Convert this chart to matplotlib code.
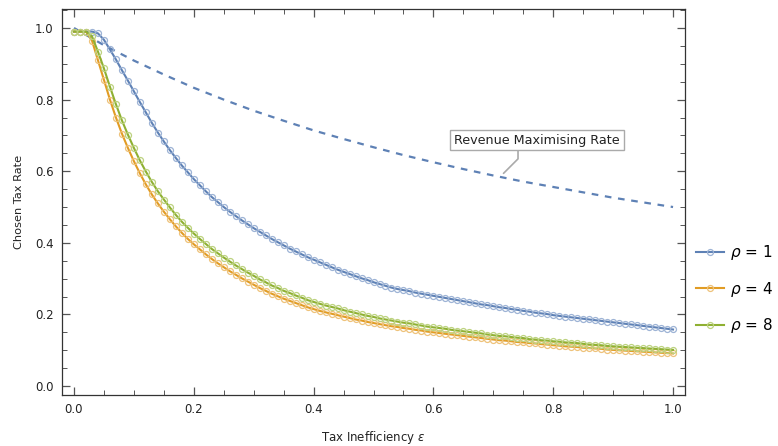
import numpy as np
import matplotlib.pyplot as plt
from matplotlib.ticker import MultipleLocator

# tax inefficiency grid (one sample every 0.01)
eps = np.round(np.arange(0, 101) * 0.01, 2)

rate_rho1 = [
    0.990, 0.990, 0.990, 0.990, 0.985, 0.967, 0.940, 0.912, 0.882, 0.853,
    0.823, 0.793, 0.764, 0.735, 0.708, 0.683, 0.659, 0.637, 0.616, 0.597,
    0.578, 0.561, 0.544, 0.528, 0.514, 0.500, 0.487, 0.475, 0.463, 0.452,
    0.441, 0.431, 0.421, 0.411, 0.402, 0.393, 0.384, 0.376, 0.368, 0.360,
    0.353, 0.346, 0.339, 0.332, 0.325, 0.319, 0.313, 0.307, 0.301, 0.296,
    0.290, 0.285, 0.280, 0.275, 0.271, 0.268, 0.265, 0.261, 0.258, 0.255,
    0.252, 0.249, 0.246, 0.243, 0.240, 0.237, 0.234, 0.231, 0.228, 0.226,
    0.223, 0.220, 0.218, 0.215, 0.213, 0.210, 0.208, 0.205, 0.203, 0.201,
    0.198, 0.196, 0.194, 0.192, 0.190, 0.188, 0.186, 0.184, 0.182, 0.180,
    0.178, 0.176, 0.174, 0.172, 0.170, 0.168, 0.166, 0.164, 0.162, 0.160,
    0.158,
]

rate_rho4 = [
    0.990, 0.990, 0.990, 0.965, 0.910, 0.855, 0.800, 0.750, 0.705, 0.665,
    0.628, 0.594, 0.563, 0.535, 0.510, 0.487, 0.466, 0.446, 0.428, 0.411,
    0.396, 0.382, 0.368, 0.355, 0.343, 0.332, 0.321, 0.311, 0.301, 0.292,
    0.283, 0.274, 0.266, 0.258, 0.251, 0.244, 0.238, 0.232, 0.226, 0.220,
    0.215, 0.210, 0.206, 0.202, 0.198, 0.194, 0.190, 0.186, 0.183, 0.179,
    0.176, 0.173, 0.170, 0.167, 0.165, 0.162, 0.160, 0.157, 0.155, 0.152,
    0.150, 0.148, 0.146, 0.144, 0.142, 0.140, 0.138, 0.136, 0.134, 0.132,
    0.130, 0.128, 0.127, 0.125, 0.123, 0.122, 0.120, 0.119, 0.117, 0.116,
    0.114, 0.113, 0.111, 0.110, 0.109, 0.107, 0.106, 0.105, 0.104, 0.102,
    0.101, 0.100, 0.099, 0.098, 0.097, 0.096, 0.095, 0.094, 0.093, 0.092,
    0.091,
]

rate_rho8 = [
    0.990, 0.990, 0.990, 0.977, 0.934, 0.887, 0.836, 0.787, 0.742, 0.702,
    0.665, 0.630, 0.599, 0.570, 0.544, 0.521, 0.499, 0.478, 0.459, 0.442,
    0.426, 0.411, 0.397, 0.383, 0.371, 0.359, 0.348, 0.337, 0.327, 0.317,
    0.308, 0.298, 0.290, 0.281, 0.274, 0.266, 0.260, 0.253, 0.247, 0.240,
    0.235, 0.230, 0.225, 0.221, 0.217, 0.212, 0.208, 0.204, 0.200, 0.196,
    0.193, 0.189, 0.186, 0.183, 0.180, 0.177, 0.175, 0.172, 0.169, 0.166,
    0.164, 0.162, 0.160, 0.157, 0.155, 0.153, 0.151, 0.149, 0.147, 0.144,
    0.142, 0.140, 0.139, 0.137, 0.135, 0.134, 0.131, 0.130, 0.128, 0.127,
    0.125, 0.124, 0.122, 0.121, 0.120, 0.118, 0.116, 0.115, 0.114, 0.112,
    0.111, 0.110, 0.109, 0.108, 0.107, 0.106, 0.105, 0.104, 0.103, 0.102,
    0.101,
]

# revenue maximising rate (dashed reference curve)
rev_eps = [0.00, 0.05, 0.10, 0.15, 0.20, 0.25, 0.30, 0.35, 0.40, 0.45, 0.50,
           0.55, 0.60, 0.65, 0.70, 0.75, 0.80, 0.85, 0.90, 0.95, 1.00]
rev_rate = [1.000, 0.952, 0.909, 0.870, 0.833, 0.800, 0.769, 0.741, 0.714,
            0.690, 0.667, 0.645, 0.625, 0.606, 0.588, 0.571, 0.556, 0.541,
            0.526, 0.513, 0.500]

series = [
    (r"$\rho$ = 1", rate_rho1, "#5E81B5", "#9DB3D5"),
    (r"$\rho$ = 4", rate_rho4, "#E19C24", "#EEC27A"),
    (r"$\rho$ = 8", rate_rho8, "#8FB032", "#BCD27F"),
]

plt.rcParams["font.family"] = "DejaVu Sans"
plt.rcParams["mathtext.fontset"] = "dejavusans"

fig = plt.figure(figsize=(7.78, 4.46), dpi=100)
ax = fig.add_axes([0.0797, 0.1143, 0.8008, 0.8655])

ax.plot(rev_eps, rev_rate, color="#5E81B5", lw=1.6, ls=(0, (3.0, 3.0)), zorder=2)

for label, vals, col, edge in series:
    ax.plot(eps, vals, color=col, lw=1.5, marker="o", ms=4.3,
            mfc="none", mec=edge, mew=0.9, label=label, zorder=3)

ax.annotate("Revenue Maximising Rate", xy=(0.717, 0.594), xytext=(0.773, 0.687),
            fontsize=9.2, ha="center", va="center", color="#222222",
            bbox=dict(boxstyle="square,pad=0.3", fc="white", ec="#AAAAAA", lw=1),
            arrowprops=dict(arrowstyle="-", color="#AAAAAA", lw=1.2,
                            relpos=(0.385, 0.0),
                            connectionstyle="angle,angleA=-90,angleB=45,rad=0",
                            shrinkA=0, shrinkB=0),
            zorder=5)

ax.set_xlim(-0.02, 1.02)
ax.set_ylim(-0.025, 1.053)
ax.xaxis.set_major_locator(MultipleLocator(0.2))
ax.xaxis.set_minor_locator(MultipleLocator(0.05))
ax.yaxis.set_major_locator(MultipleLocator(0.2))
ax.yaxis.set_minor_locator(MultipleLocator(0.05))
ax.xaxis.set_major_formatter(lambda v, p: f"{v:.1f}")
ax.yaxis.set_major_formatter(lambda v, p: f"{v:.1f}")

ax.tick_params(which="both", direction="in", top=True, right=True,
               color="#555555", labelsize=8.5, labelcolor="#222222")
ax.tick_params(which="major", length=6, width=0.9, pad=6)
ax.tick_params(which="minor", length=3.5, width=0.7)
for sp in ax.spines.values():
    sp.set_color("#333333")
    sp.set_linewidth(0.9)

ax.set_xlabel(r"Tax Inefficiency $\epsilon$", fontsize=8.5, color="#222222", labelpad=9)
ax.set_ylabel("Chosen Tax Rate", fontsize=8.2, color="#222222", labelpad=8)

fig.legend(loc="center left", bbox_to_anchor=(0.877, 0.352), frameon=False,
           fontsize=11, handlelength=1.8, handletextpad=0.4, labelspacing=1.15)

fig.savefig("out.png", dpi=100)
